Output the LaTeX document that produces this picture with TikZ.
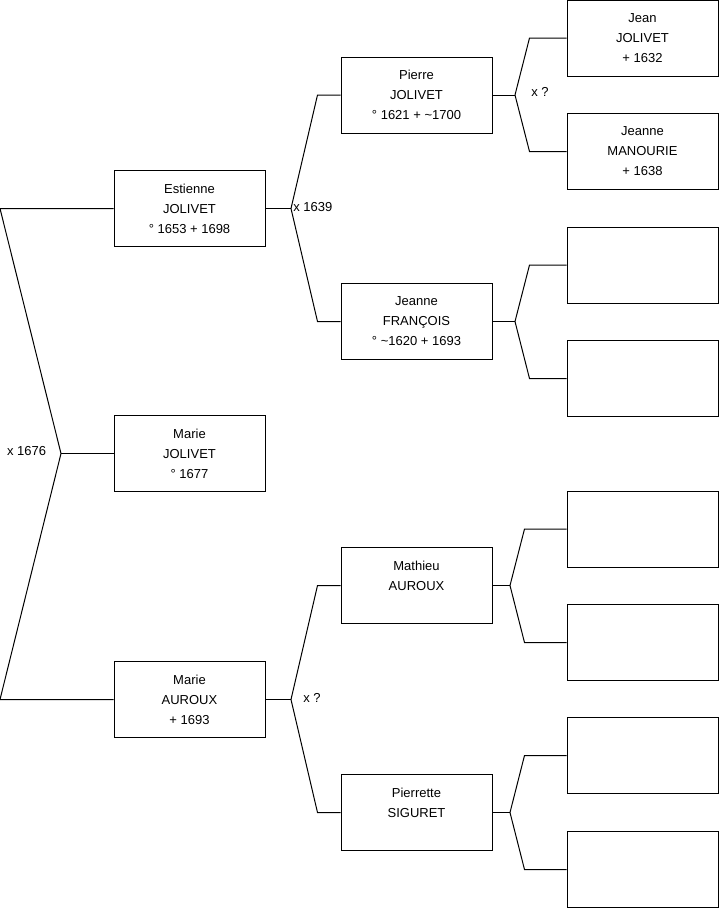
\documentclass[tikz,border=0pt]{standalone}
\usepackage{fontspec}
\setmainfont{Liberation Sans}
\usepackage{tikz}
\usetikzlibrary{positioning}

\begin{document}
\begin{tikzpicture}[
			x=0.75pt, y=-0.75pt,
			% Stile dei riquadri delle persone
			persona/.style={draw, rectangle, minimum width=113.25pt, minimum height=57pt, inner sep=0pt, align=center, font=\fontsize{9.75pt}{15pt}\selectfont, line width=0.75pt},
			% Stile delle linee
			linea/.style={line width=0.75pt},
			% Stile delle etichette di matrimonio
			nozze/.style={inner sep=0pt, font=\fontsize{9.75pt}{15pt}\selectfont}
			]
			\useasboundingbox (0,0) rectangle (719,908);
			
			% --- PRIMA GENERAZIONE ---
			\node [persona] (est) at (189.5,208.5) {Estienne\\JOLIVET\\° 1653 + 1698};
			\node [persona] (mjo) at (189.5,453.5) {Marie\\JOLIVET\\° 1677};
			\node [persona] (mau) at (189.5,699.5) {Marie\\AUROUX\\+ 1693};
			
			% --- SECONDA GENERAZIONE ---
			\node [persona] (pje) at (416.5,95) {Pierre\\JOLIVET\\° 1621 + \textasciitilde1700};
			\node [persona] (jfr) at (416.5,321.5) {Jeanne\\FRANÇOIS\\° \textasciitilde1620 + 1693};
			\node [persona] (mat) at (416.5,585.5) {Mathieu\\AUROUX\\\phantom{+ 1693}};
			\node [persona] (psi) at (416.5,812.5) {Pierrette\\SIGURET\\\phantom{+ 1693}};
			
			% --- TERZA GENERAZIONE ---
			\node [persona] (jea) at (642.5,38) {Jean\\JOLIVET\\+ 1632};
			\node [persona] (jma) at (642.5,151.5) {Jeanne\\MANOURIE\\+ 1638};
			\node [persona] (v1) at (642.5,265) {};
			\node [persona] (v2) at (642.5,378.5) {};
			\node [persona] (v3) at (642.5,529) {};
			\node [persona] (v4) at (642.5,642.5) {};
			\node [persona] (v5) at (642.5,755.5) {};
			\node [persona] (v6) at (642.5,869.5) {};
			
			% --- PUNTI DI BIFORCAZIONE ---
			\coordinate (k0) at (61,453.5);
			\coordinate (ka) at (0,208.5);
			\coordinate (kb) at (0,699.5);
			\coordinate (f1) at (291,208.5);
			\coordinate (f2) at (291,699.5);
			\coordinate (f3) at (515,95);
			\coordinate (f4) at (515,321.5);
			\coordinate (f5) at (510,585.5);
			\coordinate (f6) at (510,812.5);
			
			% --- LINEE ---
			\draw [linea] (est.west) -- (ka) -- (k0) -- (kb) -- (mau.west);
			\draw [linea] (k0) -- (mjo.west);
			
			\draw [linea] (est.east) -- (f1);
			\draw [linea] (pje.west) -- ++(-23,0) -- (f1);
			\draw [linea] (jfr.west) -- ++(-23,0) -- (f1);
			
			\draw [linea] (mau.east) -- (f2);
			\draw [linea] (mat.west) -- ++(-23,0) -- (f2);
			\draw [linea] (psi.west) -- ++(-23,0) -- (f2);
			
			\draw [linea] (pje.east) -- (f3);
			\draw [linea] (jea.west) -- ++(-37,0) -- (f3);
			\draw [linea] (jma.west) -- ++(-37,0) -- (f3);
			
			\draw [linea] (jfr.east) -- (f4);
			\draw [linea] (v1.west) -- ++(-37,0) -- (f4);
			\draw [linea] (v2.west) -- ++(-37,0) -- (f4);
			
			\draw [linea] (mat.east) -- (f5);
			\draw [linea] (v3.west) -- ++(-42,0) -- (f5);
			\draw [linea] (v4.west) -- ++(-42,0) -- (f5);
			
			\draw [linea] (psi.east) -- (f6);
			\draw [linea] (v5.west) -- ++(-42,0) -- (f6);
			\draw [linea] (v6.west) -- ++(-42,0) -- (f6);
			
			% --- MATRIMONI ---
			\node [nozze, left=11pt of k0, yshift=1.5pt] (m0) {x 1676};
			\node [nozze, right=1.5pt of f1, yshift=1pt] (m1) {x 1639};
			\node [nozze, right=9pt of f2, yshift=1.5pt] (m2) {x ?};
			\node [nozze, right=12pt of f3, yshift=2pt] (m3) {x ?};
			
		\end{tikzpicture}
\end{document}
